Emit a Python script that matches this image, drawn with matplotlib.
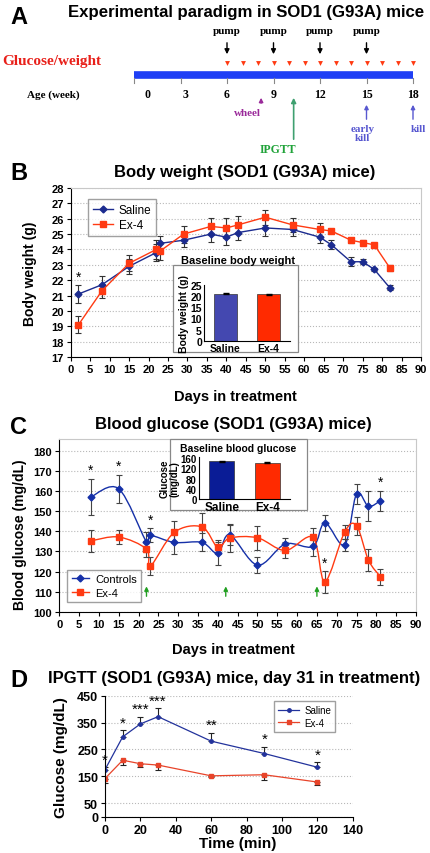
import numpy as np
import matplotlib
matplotlib.use('Agg')
import matplotlib.pyplot as plt
from matplotlib.path import Path
from matplotlib.patches import PathPatch, Rectangle
from matplotlib.lines import Line2D

plt.rcParams['font.family'] = ['Liberation Sans', 'DejaVu Sans']
SERIF = ['Liberation Serif', 'DejaVu Serif']

W, H = 430, 854

# --- panel A: timeline (weeks of age)
pump_weeks = [6, 9, 12, 15]
glucose_weeks = [6, 7, 8, 9, 10, 11, 12, 13, 14, 15, 16, 17, 18]
age_ticks = [0, 3, 6, 9, 12, 15, 18]
wheel_week = 8.2
ipgtt_week = 10.3
early_kill_week = 15
kill_week = 18

# --- panel B: body weight
bw_days = [2, 8, 15, 22, 23, 29, 36, 40, 43, 50, 57, 64, 67, 72, 75, 78, 82]
bw_saline = [21.1, 21.7, 22.9, 23.8, 24.4, 24.6, 25.0, 24.8, 25.1, 25.4, 25.3, 24.8, 24.3, 23.2, 23.2, 22.7, 21.5]
bw_saline_err = [0.57, 0.55, 0.5, 0.55, 0.5, 0.43, 0.52, 0.5, 0.5, 0.55, 0.43, 0.36, 0.3, 0.28, 0.16, 0.1, 0.17]
bw_ex4 = [19.1, 21.3, 23.1, 24.0, 23.9, 25.0, 25.5, 25.4, 25.6, 26.1, 25.6, 25.3, 25.2, 24.6, 24.45, 24.3, 22.8]
bw_ex4_err = [0.55, 0.47, 0.53, 0.6, 0.6, 0.55, 0.54, 0.63, 0.6, 0.5, 0.47, 0.42, 0.16, 0.16, 0.17, 0.15, 0.2]
bw_star_days = [2]
base_groups = ['Saline', 'Ex-4']
bw_base = [21.0, 20.8]
bw_base_err = [0.25, 0.25]

# --- panel C: blood glucose
bg_days = [8, 15, 22, 23, 29, 36, 40, 43, 50, 57, 64, 67, 72, 75, 78, 81]
bg_ctrl = [157.2, 161.2, 134.7, 138.0, 134.5, 134.5, 129.0, 138.3, 123.2, 133.7, 132.5, 144.3, 133.3, 158.7, 152.5, 155.2]
bg_ctrl_err = [9, 7, 5, 3.5, 6, 4.5, 5.5, 5, 4, 3, 5, 4, 3, 5, 7.5, 5]
bg_ex4 = [135.3, 137.2, 131.2, 122.8, 139.5, 142.2, 132.0, 136.7, 136.8, 130.5, 137.0, 115.0, 139.7, 142.8, 125.7, 117.5]
bg_ex4_err = [5.5, 3.5, 4, 4.5, 5.5, 7, 3.5, 7, 6, 4, 4.5, 5.5, 3.5, 4.5, 5.5, 4]
bg_star_ctrl = [8, 15, 23, 81]
bg_star_ex4 = [67]
pump_days = [22, 42, 65]
bg_base = [148, 143]
bg_base_err = [3, 3]

# --- panel D: IPGTT
gt_time = [0, 10, 20, 30, 60, 90, 120]
gt_saline = [175, 297, 345, 372, 281, 235, 184]
gt_saline_err = [8, 25, 26, 31, 31, 24, 19]
gt_ex4 = [142, 210, 197, 192, 152, 156, 129]
gt_ex4_err = [17, 17, 12, 20, 6, 21, 10]
gt_stars = ['*', '*', '***', '***', '**', '*', '*']

BLUE = '#1b2b8f'
RED = '#ff3a12'
GRID = '#b8b8b8'

fig = plt.figure(figsize=(W / 100, H / 100), dpi=100)


def rect(l, t, r, b):
    return [l / W, 1 - b / H, (r - l) / W, (b - t) / H]


def ftxt(x, y, s, **kw):
    kw.setdefault('va', 'center')
    return fig.text(x / W, 1 - y / H, s, **kw)


def smooth_path(x, y):
    p = np.column_stack([x, y]).astype(float)
    n = len(p)
    verts, codes = [p[0]], [Path.MOVETO]
    for i in range(n - 1):
        p0 = p[i - 1] if i > 0 else p[i]
        p3 = p[i + 2] if i + 2 < n else p[i + 1]
        verts += [p[i] + (p[i + 1] - p0) / 6, p[i + 1] - (p3 - p[i]) / 6, p[i + 1]]
        codes += [Path.CURVE4] * 3
    return Path(verts, codes)


def style_axes(ax, size=8):
    for lab in ax.get_xticklabels() + ax.get_yticklabels():
        lab.set_fontweight('bold')
        lab.set_fontsize(size)
    ax.tick_params(length=3, width=0.8, pad=2)
    ax.yaxis.grid(True, color=GRID, ls=':', lw=0.8)
    ax.set_axisbelow(True)


# ================= panel A =================
axA = fig.add_axes([0, 1 - 165 / H, 1, 165 / H])
axA.set_xlim(-134 / 15.5, (W - 134) / 15.5)
axA.set_ylim(165, 0)
axA.axis('off')
ftxt(10, 17, 'A', fontsize=17, fontweight='bold')
ftxt(68, 13, 'Experimental paradigm in SOD1 (G93A) mice', fontsize=12.1, fontweight='bold')
ftxt(2, 62, 'Glucose/weight', color='#e8201a', fontsize=11, fontweight='bold', family=SERIF)
ftxt(27, 95, 'Age (week)', fontsize=8, fontweight='bold', family=SERIF)

axA.plot([age_ticks[0], age_ticks[-1]], [76, 76], color='#1f3ff5', lw=5.5, solid_capstyle='butt')
for wk in age_ticks:
    axA.plot([wk, wk], [79, 84], color='#888888', lw=0.8)
    axA.text(wk + (0.9 if wk == 0 else 0.3 if wk == 3 else 0), 95, str(wk), ha='center', va='center',
             fontsize=8.5, fontweight='bold', family=SERIF)
axA.plot(glucose_weeks, [64] * len(glucose_weeks), 'v', color='#ff3a12', ms=3.5, mec='none')
for wk in pump_weeks:
    axA.text(wk, 31, 'pump', ha='center', va='center', fontsize=8, fontweight='bold', family=SERIF)
    axA.annotate('', xy=(wk, 58), xytext=(wk, 41),
                 arrowprops=dict(arrowstyle='-|>', color='black', lw=1, mutation_scale=7))
axA.annotate('', xy=(wheel_week, 96), xytext=(wheel_week, 107),
             arrowprops=dict(arrowstyle='-|>', color='#9a2a9a', lw=1, mutation_scale=6))
axA.text(wheel_week - 0.85, 114, 'wheel', ha='center', va='center', color='#9a2a9a',
         fontsize=8, fontweight='bold', family=SERIF)
axA.annotate('', xy=(ipgtt_week, 96), xytext=(ipgtt_week, 143),
             arrowprops=dict(arrowstyle='-|>', color='#3fa070', lw=1.2, mutation_scale=7))
axA.text(ipgtt_week - 1.0, 150, 'IPGTT', ha='center', va='center', color='#21a33a',
         fontsize=8.5, fontweight='bold', family=SERIF)
for wk, lab in [(early_kill_week, 'early\nkill'), (kill_week, 'kill')]:
    axA.annotate('', xy=(wk, 103), xytext=(wk, 123),
                 arrowprops=dict(arrowstyle='-|>', color='#5858d0', lw=1, mutation_scale=6))
    axA.text(wk + (-0.25 if wk == early_kill_week else 0.35), 125, lab, ha='center', va='top',
             color='#5858d0', fontsize=8, fontweight='bold', family=SERIF, linespacing=1.0)

# ================= panel B =================
ftxt(10, 173, 'B', fontsize=17, fontweight='bold')
ftxt(245, 172, 'Body weight (SOD1 (G93A) mice)', fontsize=12, fontweight='bold', ha='center')
axB = fig.add_axes(rect(70.7, 189, 421, 358))
axB.errorbar(bw_days, bw_saline, yerr=bw_saline_err, fmt='none', ecolor='#333333', elinewidth=0.8, capsize=2.5, capthick=0.8)
axB.errorbar(bw_days, bw_ex4, yerr=bw_ex4_err, fmt='none', ecolor='#333333', elinewidth=0.8, capsize=2.5, capthick=0.8)
axB.plot(bw_days, bw_saline, '-D', color=BLUE, lw=1, ms=3.5, label='Saline')
axB.plot(bw_days, bw_ex4, '-s', color=RED, lw=1, ms=4, label='Ex-4')
for d in bw_star_days:
    i = bw_days.index(d)
    axB.text(d, bw_saline[i] + bw_saline_err[i] + 0.1, '*', ha='center', va='bottom', fontsize=10)
axB.set_xlim(0, 90)
axB.set_ylim(17, 28)
axB.set_xticks(range(0, 91, 5))
axB.set_yticks(range(17, 29))
style_axes(axB)
for s in ['top', 'right']:
    axB.spines[s].set_color('#c8c8c8')
axB.set_ylabel('Body weight (g)', fontsize=10, fontweight='bold')
axB.yaxis.set_label_coords(-0.096, 0.5)
axB.set_xlabel('Days in treatment', fontsize=10.5, fontweight='bold')
axB.xaxis.set_label_coords(0.469, -0.19)
axB.legend(loc='upper left', bbox_to_anchor=(0.049, 0.935), borderaxespad=0, fontsize=8.5,
           frameon=True, fancybox=False, edgecolor='#888888', handlelength=1.7, borderpad=0.4,
           labelspacing=0.3, handletextpad=0.5)

# inset B
fig.add_artist(Rectangle((173 / W, 1 - 353 / H), 125 / W, 87 / H, transform=fig.transFigure,
                         facecolor='white', edgecolor='#888888', lw=0.9, zorder=0.5))
ftxt(238, 261, 'Baseline body weight', fontsize=8, fontweight='bold', ha='center')
axBi = fig.add_axes(rect(204, 286, 290, 341.7))
axBi.set_zorder(2)
axBi.patch.set_alpha(0)
axBi.bar([0, 1], bw_base, yerr=bw_base_err, width=0.55, color=['#4448b0', '#ff2a00'],
         edgecolor='#333333', lw=0.5, capsize=2, error_kw=dict(elinewidth=0.7))
axBi.set_xlim(-0.5, 1.5)
axBi.set_ylim(0, 25)
axBi.set_yticks(range(0, 26, 5))
axBi.set_xticks([0, 1])
axBi.set_xticklabels(base_groups)
for lab in axBi.get_xticklabels() + axBi.get_yticklabels():
    lab.set_fontweight('bold')
    lab.set_fontsize(7.5)
axBi.tick_params(length=0, pad=1.5)
axBi.spines[['top', 'right']].set_visible(False)
axBi.set_ylabel('Body weight (g)', fontsize=7.5, fontweight='bold', labelpad=1)

# ================= panel C =================
ftxt(10, 428, 'C', fontsize=17, fontweight='bold')
ftxt(233, 425, 'Blood glucose (SOD1 (G93A) mice)', fontsize=12, fontweight='bold', ha='center')
axC = fig.add_axes(rect(59.3, 440, 416, 612.7))
axC.errorbar(bg_days, bg_ctrl, yerr=bg_ctrl_err, fmt='none', ecolor='#444444', elinewidth=0.8, capsize=2.5, capthick=0.8)
axC.errorbar(bg_days, bg_ex4, yerr=bg_ex4_err, fmt='none', ecolor='#444444', elinewidth=0.8, capsize=2.5, capthick=0.8)
axC.add_patch(PathPatch(smooth_path(bg_days, bg_ctrl), fill=False, edgecolor='#1530a8', lw=1))
axC.add_patch(PathPatch(smooth_path(bg_days, bg_ex4), fill=False, edgecolor=RED, lw=1))
axC.plot(bg_days, bg_ctrl, 'D', color='#1530a8', ms=3.5, ls='none')
axC.plot(bg_days, bg_ex4, 's', color=RED, ms=4, ls='none')
for d in bg_star_ctrl:
    i = bg_days.index(d)
    axC.text(d, bg_ctrl[i] + bg_ctrl_err[i] + 0.8, '*', ha='center', va='bottom', fontsize=10)
for d in bg_star_ex4:
    i = bg_days.index(d)
    axC.text(d, bg_ex4[i] + bg_ex4_err[i] + 0.5, '*', ha='center', va='bottom', fontsize=10)
for d in pump_days:
    axC.annotate('', xy=(d, 114), xytext=(d, 106.3),
                 arrowprops=dict(arrowstyle='-|>', color='#22a022', lw=1, mutation_scale=6))
axC.set_xlim(0, 90)
axC.set_ylim(100, 186)
axC.set_xticks(range(0, 91, 5))
axC.set_yticks(range(100, 181, 10))
style_axes(axC)
for s in ['top', 'right']:
    axC.spines[s].set_color('#c8c8c8')
axC.set_ylabel('Blood glucose (mg/dL)', fontsize=10, fontweight='bold')
axC.yaxis.set_label_coords(-0.09, 0.45)
axC.set_xlabel('Days in treatment', fontsize=10.5, fontweight='bold')
axC.xaxis.set_label_coords(0.487, -0.175)
handles = [Line2D([], [], color='#1530a8', marker='D', ms=3.5, lw=1),
           Line2D([], [], color=RED, marker='s', ms=4, lw=1)]
axC.legend(handles, ['Controls', 'Ex-4'], loc='lower left', bbox_to_anchor=(0.022, 0.056),
           borderaxespad=0, fontsize=8, fancybox=False, edgecolor='#888888', handlelength=1.6,
           borderpad=0.4, labelspacing=0.3, handletextpad=0.5)

# inset C
fig.add_artist(Rectangle((170 / W, 1 - 510.7 / H), 137 / W, 70.7 / H, transform=fig.transFigure,
                         facecolor='white', edgecolor='#888888', lw=0.9, zorder=0.5))
ftxt(238, 449, 'Baseline blood glucose', fontsize=7.5, fontweight='bold', ha='center')
axCi = fig.add_axes(rect(199, 458, 290, 500))
axCi.set_zorder(2)
axCi.patch.set_alpha(0)
axCi.bar([0, 1], bg_base, yerr=bg_base_err, width=0.55, color=['#0a1c96', '#ff2a00'],
         edgecolor='#333333', lw=0.5, capsize=2, error_kw=dict(elinewidth=0.7))
axCi.set_xlim(-0.5, 1.5)
axCi.set_ylim(0, 165)
axCi.set_yticks(range(0, 161, 40))
axCi.set_xticks([0, 1])
axCi.set_xticklabels(base_groups)
for lab in axCi.get_yticklabels():
    lab.set_fontweight('bold')
    lab.set_fontsize(7)
for lab in axCi.get_xticklabels():
    lab.set_fontweight('bold')
    lab.set_fontsize(8.5)
axCi.tick_params(length=0, pad=1.5)
axCi.spines[['top', 'right']].set_visible(False)
axCi.set_ylabel('Glucose\n(mg/dL)', fontsize=7, fontweight='bold', labelpad=1, linespacing=1.0)

# ================= panel D =================
ftxt(10, 681, 'D', fontsize=17, fontweight='bold')
ftxt(48, 679, 'IPGTT (SOD1 (G93A) mice, day 31 in treatment)', fontsize=12, fontweight='bold')
axD = fig.add_axes(rect(105, 696.7, 352.7, 817.7))
axD.errorbar(gt_time, gt_saline, yerr=[[0] * len(gt_time), gt_saline_err], fmt='none',
             ecolor='#222222', elinewidth=0.8, capsize=2.5, capthick=0.8)
axD.errorbar(gt_time, gt_ex4, yerr=[gt_ex4_err, [0] * len(gt_time)], fmt='none',
             ecolor='#222222', elinewidth=0.8, capsize=2.5, capthick=0.8)
axD.plot(gt_time, gt_saline, '-o', color='#23339c', lw=0.9, ms=2.5, label='Saline')
axD.plot(gt_time, gt_ex4, '-s', color='#e8442a', lw=0.9, ms=2.8, label='Ex-4')
for t, v, e, s in zip(gt_time, gt_saline, gt_saline_err, gt_stars):
    axD.text(t, v + e + 3, s, ha='center', va='bottom', fontsize=11)
axD.set_xlim(0, 140)
axD.set_ylim(0, 450)
axD.set_xticks(range(0, 141, 20))
axD.set_yticks([0, 50, 150, 250, 350, 450])
style_axes(axD, 9)
axD.spines[['top', 'right']].set_visible(False)
axD.set_ylabel('Glucose (mg/dL)', fontsize=11, fontweight='bold')
axD.yaxis.set_label_coords(-0.149, 0.5)
axD.set_xlabel('Time (min)', fontsize=11, fontweight='bold')
axD.xaxis.set_label_coords(0.537, -0.16)
axD.legend(loc='upper right', bbox_to_anchor=(0.929, 0.956), borderaxespad=0, fontsize=7,
           fancybox=False, edgecolor='#888888', handlelength=2.2, borderpad=0.4, labelspacing=0.3,
           handletextpad=0.5)

fig.savefig('out.png', dpi=100)
